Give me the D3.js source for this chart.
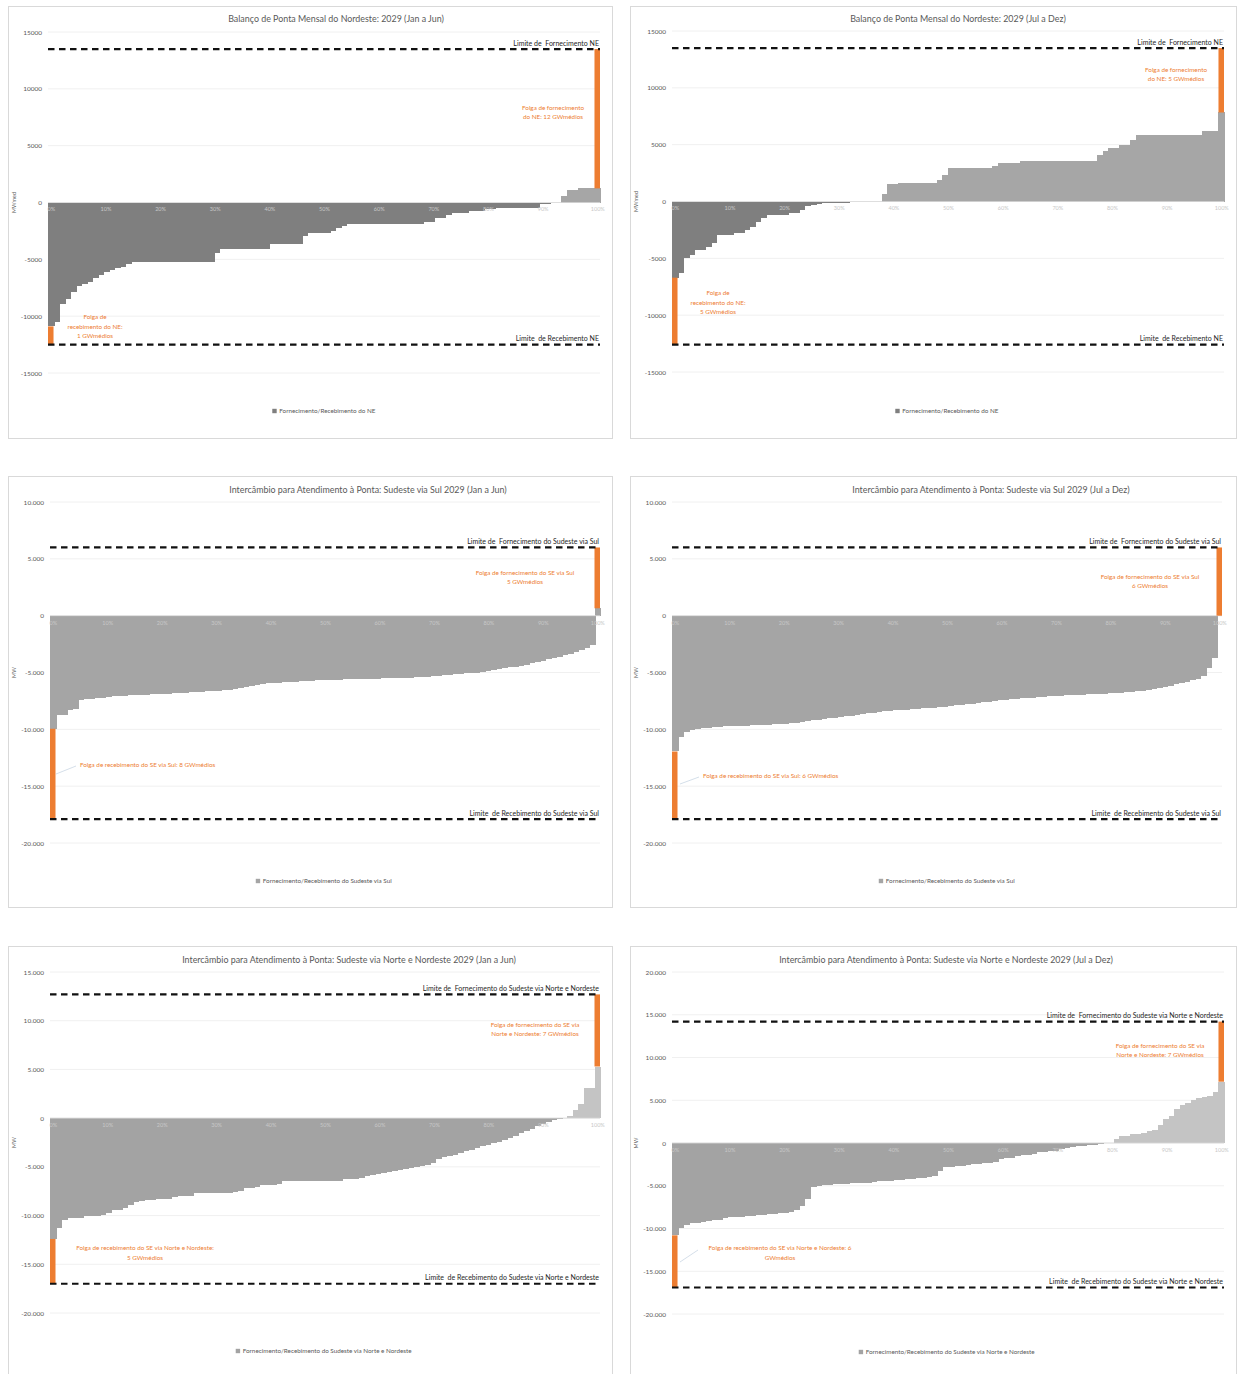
<!DOCTYPE html>
<html><head><meta charset="utf-8">
<script src="https://cdn.jsdelivr.net/npm/d3@7"></script>
<style>
body{margin:0;background:#fff}
svg{display:block}
text{font-family:Lato,"Open Sans","Liberation Sans",sans-serif;white-space:pre}
</style>
</head><body>
<svg id="c" width="1240" height="1374"></svg>
<script>
// ---------------- DATA ----------------
const titles = [
  "Balanço de Ponta Mensal do Nordeste: 2029 (Jan a Jun)",
  "Balanço de Ponta Mensal do Nordeste: 2029 (Jul a Dez)",
  "Intercâmbio para Atendimento à Ponta: Sudeste via Sul 2029 (Jan a Jun)",
  "Intercâmbio para Atendimento à Ponta: Sudeste via Sul 2029 (Jul a Dez)",
  "Intercâmbio para Atendimento à Ponta: Sudeste via Norte e Nordeste 2029 (Jan a Jun)",
  "Intercâmbio para Atendimento à Ponta: Sudeste via Norte e Nordeste 2029 (Jul a Dez)"
];
const yAxisTitles = ["MWmed","MWmed","MW","MW","MW","MW"];
const legendLabels = [
  "Fornecimento/Recebimento do NE",
  "Fornecimento/Recebimento do NE",
  "Fornecimento/Recebimento do Sudeste via Sul",
  "Fornecimento/Recebimento do Sudeste via Sul",
  "Fornecimento/Recebimento do Sudeste via Norte e Nordeste",
  "Fornecimento/Recebimento do Sudeste via Norte e Nordeste"
];
const yTicksNE   = [15000,10000,5000,0,-5000,-10000,-15000];
const yTicksSul  = [10000,5000,0,-5000,-10000,-15000,-20000];
const yTicksNNE1 = [15000,10000,5000,0,-5000,-10000,-15000,-20000];
const yTicksNNE2 = [20000,15000,10000,5000,0,-5000,-10000,-15000,-20000];
const xTickPercents = [0,10,20,30,40,50,60,70,80,90,100];

// duration curves, one value per percentile bucket (0..99)
const neJanJun = [
  -10900,-10500,-8950,-8480,-7900,-7370,-7160,-7000,-6640,-6370,
  -6080,-5900,-5790,-5640,-5410,-5200,-5200,-5200,-5200,-5200,
  -5200,-5200,-5200,-5200,-5200,-5200,-5200,-5200,-5200,-5200,
  -4470,-4090,-4090,-4090,-4090,-4090,-4090,-4090,-4090,-4090,
  -3650,-3650,-3650,-3650,-3650,-3650,-2980,-2720,-2720,-2720,
  -2720,-2490,-2280,-2050,-1900,-1900,-1900,-1900,-1900,-1900,
  -1900,-1900,-1900,-1900,-1900,-1900,-1900,-1900,-1750,-1700,
  -1400,-1350,-1080,-965,-965,-965,-730,-730,-730,-585,
  -585,-440,-440,-440,-440,-440,-440,-440,-440,-150,
  -100,-60,0,560,1100,1100,1240,1240,1240,1240
];
const neJulDez = [
  -6700,-6260,-5000,-4700,-4260,-4260,-3970,-3680,-2940,-2940,
  -2940,-2790,-2790,-2500,-2200,-1760,-1470,-1180,-1180,-1180,
  -1180,-1030,-1000,-735,-380,-300,-200,-150,-130,-110,
  -100,-90,-80,-60,-50,-40,-30,-20,680,1580,
  1580,1640,1640,1640,1640,1640,1640,1640,1880,2320,
  2920,2920,2920,2920,2920,2920,2920,2920,3150,3360,
  3360,3360,3360,3600,3600,3600,3600,3600,3600,3600,
  3600,3600,3600,3600,3600,3600,3600,4110,4400,4700,
  4700,5000,5000,5450,5890,5890,5890,5890,5890,5890,
  5890,5890,5890,5890,5890,5890,6190,6190,6190,7830
];
const sulJanJun = [
  -9950,-8750,-8700,-8300,-8200,-7400,-7350,-7300,-7250,-7200,
  -7150,-7100,-7080,-7050,-7020,-7000,-6980,-6950,-6930,-6900,
  -6880,-6850,-6820,-6800,-6780,-6750,-6720,-6700,-6650,-6620,
  -6600,-6550,-6500,-6450,-6400,-6300,-6200,-6100,-6000,-5950,
  -5900,-5880,-5850,-5820,-5800,-5780,-5750,-5720,-5700,-5680,
  -5660,-5640,-5620,-5600,-5580,-5570,-5560,-5550,-5540,-5530,
  -5520,-5510,-5500,-5490,-5470,-5450,-5420,-5390,-5360,-5320,
  -5290,-5250,-5200,-5160,-5120,-5080,-5040,-5000,-4950,-4880,
  -4800,-4720,-4640,-4560,-4480,-4400,-4300,-4200,-4080,-3950,
  -3800,-3700,-3600,-3480,-3350,-3200,-3050,-2850,-2600,650
];
const sulJulDez = [
  -11950,-10670,-10230,-10090,-9950,-9900,-9860,-9820,-9780,-9750,
  -9730,-9710,-9690,-9670,-9650,-9630,-9600,-9580,-9550,-9520,
  -9500,-9450,-9400,-9340,-9280,-9220,-9160,-9100,-9040,-8980,
  -8920,-8860,-8800,-8720,-8630,-8580,-8530,-8480,-8430,-8380,
  -8340,-8300,-8260,-8220,-8180,-8140,-8100,-8080,-8050,-8000,
  -7950,-7900,-7850,-7800,-7740,-7680,-7620,-7560,-7470,-7420,
  -7380,-7340,-7300,-7260,-7230,-7200,-7170,-7130,-7100,-7060,
  -7030,-7010,-6990,-6970,-6950,-6930,-6910,-6890,-6870,-6840,
  -6810,-6780,-6740,-6700,-6650,-6600,-6540,-6470,-6400,-6300,
  -6180,-6050,-5950,-5850,-5700,-5580,-5300,-4600,-3700,0
];
const nneJanJun = [
  -12400,-11270,-10420,-10250,-10220,-10200,-10080,-10050,-10000,-9950,
  -9750,-9410,-9400,-9240,-8900,-8560,-8500,-8450,-8400,-8320,
  -8300,-8280,-8050,-8000,-7980,-7950,-7710,-7700,-7700,-7700,
  -7700,-7700,-7700,-7540,-7500,-7200,-7150,-7100,-6860,-6850,
  -6830,-6800,-6500,-6500,-6500,-6500,-6500,-6500,-6500,-6500,
  -6500,-6500,-6500,-6280,-6250,-6200,-6100,-5950,-5850,-5750,
  -5650,-5550,-5450,-5350,-5250,-5150,-5050,-4950,-4850,-4600,
  -4200,-4000,-3900,-3750,-3550,-3400,-3250,-3100,-2900,-2750,
  -2600,-2400,-2200,-2000,-1800,-1550,-1350,-1100,-800,-550,
  -350,-150,-80,0,170,860,1440,3080,3080,5300
];
const nneJulDez = [
  -10800,-9960,-9570,-9400,-9300,-9250,-9100,-9000,-8950,-8800,
  -8700,-8650,-8600,-8550,-8500,-8450,-8400,-8300,-8250,-8200,
  -8150,-8100,-7810,-7400,-6500,-5100,-5000,-4950,-4900,-4850,
  -4800,-4760,-4720,-4680,-4650,-4620,-4550,-4500,-4450,-4400,
  -4350,-4300,-4250,-4200,-4150,-4100,-4000,-3900,-3320,-2800,
  -2750,-2700,-2650,-2600,-2450,-2400,-2350,-2300,-2250,-1900,
  -1800,-1700,-1500,-1400,-1350,-1300,-1100,-1000,-950,-900,
  -700,-600,-500,-400,-300,-250,-200,-120,-50,30,
  470,870,870,1060,1100,1150,1460,1550,2050,2830,
  3200,4000,4400,4700,5000,5300,5400,5500,6000,7170
];
const supplyLimits  = [13500, 13500, 6000, 6000, 12700, 14200];
const receiveLimits = [-12500, -12600, -17900, -17900, -17000, -16900];
const supplyLimitLabels = [
  "Limite de  Fornecimento NE",
  "Limite de  Fornecimento NE",
  "Limite de  Fornecimento do Sudeste via Sul",
  "Limite de  Fornecimento do Sudeste via Sul",
  "Limite de  Fornecimento do Sudeste via Norte e Nordeste",
  "Limite de  Fornecimento do Sudeste via Norte e Nordeste"
];
const receiveLimitLabels = [
  "Limite  de Recebimento NE",
  "Limite  de Recebimento NE",
  "Limite  de Recebimento do Sudeste via Sul",
  "Limite  de Recebimento do Sudeste via Sul",
  "Limite  de Recebimento do Sudeste via Norte e Nordeste",
  "Limite  de Recebimento do Sudeste via Norte e Nordeste"
];
const supplySlackText = [
  ["Folga de fornecimento","do NE: 12 GWmédios"],
  ["Folga de fornecimento","do NE: 5 GWmédios"],
  ["Folga de fornecimento do SE via Sul","5 GWmédios"],
  ["Folga de fornecimento do SE via Sul","6 GWmédios"],
  ["Folga de fornecimento do SE via","Norte e Nordeste: 7 GWmédios"],
  ["Folga de fornecimento do SE via","Norte e Nordeste: 7 GWmédios"]
];
const receiveSlackText = [
  ["Folga de","recebimento do NE:","1 GWmédios"],
  ["Folga de","recebimento do NE:","5 GWmédios"],
  ["Folga de recebimento do SE via Sul: 8 GWmédios"],
  ["Folga de recebimento do SE via Sul: 6 GWmédios"],
  ["Folga de recebimento do SE via Norte e Nordeste:","5 GWmédios"],
  ["Folga de recebimento do SE via Norte e Nordeste: 6","GWmédios"]
];
const seriesList = [neJanJun, neJulDez, sulJanJun, sulJulDez, nneJanJun, nneJulDez];
const tickList = [yTicksNE, yTicksNE, yTicksSul, yTicksSul, yTicksNNE1, yTicksNNE2];

// ---------------- LAYOUT / STYLE ----------------
const layout = [
  {bx:8,by:6,bw:604,bh:432,left:48,right:600,yTop:32,yBot:373,titleX:336,titleY:19,legendX:324,legendY:411,axX:14,
   sup:{x:553,y:108,a:"middle"},rec:{x:95,y:317,a:"middle"},leader:null,neg:"#7f7f7f",pos:"#a6a6a6",dot:false},
  {bx:630,by:6,bw:606,bh:432,left:672,right:1224,yTop:31,yBot:372,titleX:958,titleY:19,legendX:947,legendY:411,axX:636,
   sup:{x:1176,y:70,a:"middle"},rec:{x:718,y:293,a:"middle"},leader:null,neg:"#7f7f7f",pos:"#a6a6a6",dot:false},
  {bx:8,by:476,bw:604,bh:431,left:50,right:600,yTop:502,yBot:843,titleX:368,titleY:490,legendX:324,legendY:881,axX:14,
   sup:{x:525,y:573,a:"middle"},rec:{x:80,y:765,a:"start"},leader:[56,774,76,766],neg:"#a5a5a5",pos:"#a5a5a5",dot:true},
  {bx:630,by:476,bw:606,bh:431,left:672,right:1222,yTop:502,yBot:843,titleX:991,titleY:490,legendX:947,legendY:881,axX:636,
   sup:{x:1150,y:577,a:"middle"},rec:{x:703,y:776,a:"start"},leader:[680,784,699,777],neg:"#a5a5a5",pos:"#a5a5a5",dot:true},
  {bx:8,by:946,bw:604,bh:440,left:50,right:600,yTop:972,yBot:1313,titleX:349,titleY:960,legendX:324,legendY:1351,axX:14,
   sup:{x:535,y:1025,a:"middle"},rec:{x:145,y:1248,a:"middle"},leader:null,neg:"#a3a3a3",pos:"#c4c4c4",dot:true},
  {bx:630,by:946,bw:606,bh:440,left:672,right:1224,yTop:972,yBot:1314,titleX:946,titleY:960,legendX:947,legendY:1352,axX:636,
   sup:{x:1160,y:1046,a:"middle"},rec:{x:780,y:1248,a:"middle"},leader:[680,1262,698,1250],neg:"#a3a3a3",pos:"#c4c4c4",dot:true}
];
const ORANGE = "#ed7d31";

const locPlain = d3.formatLocale({decimal:",",thousands:"",grouping:[3],currency:["",""],minus:"-"});
const locDot = d3.formatLocale({decimal:",",thousands:".",grouping:[3],currency:["",""],minus:"-"});
const fmtPlain = locPlain.format("d");
const fmtDot = locDot.format(",d");

const svg = d3.select("#c");

layout.forEach((L, k) => {
  const vals = seriesList[k];
  const ticks = tickList[k];
  const g = svg.append("g");

  g.append("rect").attr("x",L.bx+0.5).attr("y",L.by+0.5).attr("width",L.bw).attr("height",L.bh)
    .attr("fill","#fff").attr("stroke","#d9d9d9").attr("stroke-width",1);

  const y = d3.scaleLinear().domain([d3.min(ticks), d3.max(ticks)]).range([L.yBot, L.yTop]);
  const x = d3.scaleBand().domain(d3.range(vals.length)).range([L.left, L.right]).padding(0);
  const bw = x.bandwidth();

  // gridlines
  g.append("g").selectAll("line").data(ticks).join("line")
    .attr("x1",L.left).attr("x2",L.right).attr("y1",d=>y(d)).attr("y2",d=>y(d))
    .attr("stroke","#f0f0f0").attr("stroke-width",1);

  // title
  g.append("text").attr("x",L.titleX).attr("y",L.titleY).attr("dy","0.35em")
    .attr("text-anchor","middle").attr("font-size",8.9).attr("fill","#595959").text(titles[k]);

  // y axis
  const yAxis = d3.axisLeft(y).tickValues(ticks).tickSize(0).tickPadding(6)
    .tickFormat(L.dot ? fmtDot : fmtPlain);
  const ya = g.append("g").attr("transform",`translate(${L.left},0)`).call(yAxis);
  ya.select(".domain").remove();
  ya.selectAll("text").attr("font-size",6.5).attr("fill","#595959").style("font-family","Lato, sans-serif");

  // y axis title
  g.append("text").attr("transform",`translate(${L.axX},${(L.yTop+L.yBot)/2}) rotate(-90)`)
    .attr("text-anchor","middle").attr("dy","0.35em").attr("font-size",5.5).attr("fill","#595959")
    .text(yAxisTitles[k]);

  // bars
  g.append("g").attr("shape-rendering","crispEdges").selectAll("rect").data(vals).join("rect")
    .attr("x",(d,i)=>x(i)).attr("width",bw+1)
    .attr("y",d=>y(Math.max(0,d))).attr("height",d=>Math.abs(y(d)-y(0)))
    .attr("fill",d=>d<0?L.neg:L.pos);

  // zero axis line
  g.append("line").attr("x1",L.left).attr("x2",L.right).attr("y1",y(0)).attr("y2",y(0))
    .attr("stroke","#d9d9d9").attr("stroke-width",0.8);

  // x percent labels
  const xp = d3.scaleLinear().domain([0,100]).range([x(0)+bw/2, x(vals.length-1)+bw/2]);
  const xa = g.append("g").attr("transform",`translate(0,${y(0)})`)
    .call(d3.axisBottom(xp).tickValues(xTickPercents).tickSize(0).tickPadding(5).tickFormat(d=>d+"%"));
  xa.select(".domain").remove();
  xa.selectAll("text").attr("font-size",5.5).attr("fill","#c8c8c8").style("font-family","Lato, sans-serif");

  // orange slack bars
  const last = vals.length-1;
  g.append("rect").attr("x",x(last)).attr("width",bw)
    .attr("y",y(supplyLimits[k])).attr("height",y(Math.max(0,vals[last]))-y(supplyLimits[k]))
    .attr("fill",ORANGE);
  g.append("rect").attr("x",x(0)).attr("width",bw)
    .attr("y",y(vals[0])).attr("height",y(receiveLimits[k])-y(vals[0]))
    .attr("fill",ORANGE);

  // dashed limit lines
  [supplyLimits[k], receiveLimits[k]].forEach(v=>{
    g.append("line").attr("x1",L.left).attr("x2",L.right).attr("y1",y(v)).attr("y2",y(v))
      .attr("stroke","#111").attr("stroke-width",2.2).attr("stroke-dasharray","6.5,4.5");
  });
  g.append("text").attr("x",L.right-1).attr("y",y(supplyLimits[k])-3.5).attr("text-anchor","end")
    .attr("font-size",7).attr("fill","#262626").text(supplyLimitLabels[k]);
  g.append("text").attr("x",L.right-1).attr("y",y(receiveLimits[k])-3.5).attr("text-anchor","end")
    .attr("font-size",7).attr("fill","#262626").text(receiveLimitLabels[k]);

  // slack annotations
  supplySlackText[k].forEach((t,i)=>{
    g.append("text").attr("x",L.sup.x).attr("y",L.sup.y+i*9).attr("dy","0.35em")
      .attr("text-anchor",L.sup.a).attr("font-size",6.3).attr("fill",ORANGE).text(t);
  });
  receiveSlackText[k].forEach((t,i)=>{
    g.append("text").attr("x",L.rec.x).attr("y",L.rec.y+i*9.5).attr("dy","0.35em")
      .attr("text-anchor",L.rec.a).attr("font-size",6.3).attr("fill",ORANGE).text(t);
  });
  if (L.leader) {
    g.append("line").attr("x1",L.leader[0]).attr("y1",L.leader[1]).attr("x2",L.leader[2]).attr("y2",L.leader[3])
      .attr("stroke","#c9d6e3").attr("stroke-width",0.8);
  }

  // legend
  const lg = g.append("g");
  lg.append("rect").attr("x",0).attr("y",-2.2).attr("width",4.4).attr("height",4.4).attr("fill",L.neg);
  lg.append("text").attr("x",7).attr("y",0).attr("dy","0.35em").attr("font-size",6.3).attr("fill","#595959")
    .text(legendLabels[k]);
  const bb = lg.node().getBBox();
  lg.attr("transform",`translate(${L.legendX - bb.width/2},${L.legendY})`);
});
</script>
</body></html>
